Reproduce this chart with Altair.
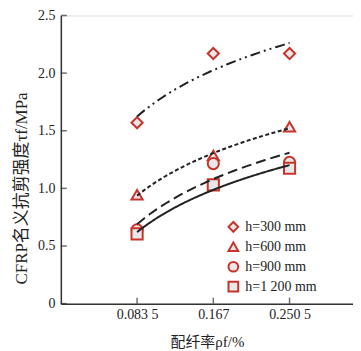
import altair as alt
import pandas as pd

# ---- data ----
ratio = [0.0835, 0.167, 0.2505]
ratio_labels = ["0.083 5", "0.167", "0.250 5"]
series = ["h=300 mm", "h=600 mm", "h=900 mm", "h=1 200 mm"]
h300 = [1.57, 2.17, 2.17]
h600 = [0.945, 1.285, 1.535]
h900 = [0.64, 1.215, 1.225]
h1200 = [0.605, 1.03, 1.175]
y_ticks = [0, 0.5, 1.0, 1.5, 2.0, 2.5]

shapes = ["diamond", "triangle-up", "circle", "square"]
dashes = [[10, 4, 2, 4, 2, 4], [4, 2.5], [10, 5], [1, 0]]

rows = []
for name, vals in zip(series, [h300, h600, h900, h1200]):
    for x, v in zip(ratio, vals):
        rows.append({"rho": x, "tau": v, "h": name})
df = pd.DataFrame(rows)

RED = "#c8342c"
FILL = "#e8e8e8"
SERIF = "Liberation Serif"
MIXED = "'Liberation Serif', 'Noto Sans CJK SC', serif"

W, H = 293, 289
xscale = alt.Scale(domain=[0, 0.32], nice=False, zero=False)
yscale = alt.Scale(domain=[0, 2.5], nice=False)

x_expr = " : ".join(
    f"datum.value == {v} ? '{l}'" for v, l in zip(ratio, ratio_labels)
) + " : ''"

x_axis = alt.Axis(
    values=ratio, labelExpr=x_expr, ticks=False, tickSize=0, grid=False,
    labelPadding=4, labelFont=SERIF, labelFontSize=14, labelColor="#222",
    title="配纤率ρf/%", titleFont=MIXED, titleFontSize=15, titleFontWeight="normal",
    titleColor="#222", titlePadding=13, domainColor="#333", domainWidth=1.5,
)
y_axis = alt.Axis(
    values=y_ticks,
    labelExpr="datum.value == 0 ? '0' : format(datum.value, '.1f')",
    ticks=False, tickSize=0, grid=False, labelPadding=6,
    labelFont=SERIF, labelFontSize=14, labelColor="#222",
    title="CFRP名义抗剪强度τf/MPa", titleFont=MIXED, titleFontSize=17,
    titleFontWeight="normal", titleColor="#222", titleAngle=-90,
    titleX=-39, titleY=173, titleAlign="center", titleBaseline="middle",
    domainColor="#333", domainWidth=1.5,
)

legend = alt.Legend(
    title=None, orient="none", legendX=166, legendY=205,
    labelFont=SERIF, labelFontSize=14, labelColor="#222",
    symbolSize=95, symbolStrokeWidth=2, symbolOpacity=1,
    symbolFillColor="#f0f0f0", labelOffset=5, rowPadding=2, padding=0,
)

base = alt.Chart(df)

points = base.mark_point(
    filled=False, fill=FILL, fillOpacity=1, strokeWidth=2, opacity=1, size=125
).encode(
    x=alt.X("rho:Q", scale=xscale, axis=x_axis),
    y=alt.Y("tau:Q", scale=yscale, axis=y_axis),
    shape=alt.Shape("h:N", scale=alt.Scale(domain=series, range=shapes),
                    sort=series, legend=legend),
    color=alt.Color("h:N", scale=alt.Scale(domain=series, range=[RED] * 4),
                    sort=series, legend=legend),
)

curve_layers = []
for name, dash in zip(series, dashes):
    curve_layers.append(
        base.transform_filter(alt.datum.h == name)
        .transform_regression("rho", "tau", method="log", extent=[0.0835, 0.2505])
        .mark_line(stroke="#222", strokeWidth=2, strokeDash=dash)
        .encode(
            x=alt.X("rho:Q", scale=xscale),
            y=alt.Y("tau:Q", scale=yscale),
        )
    )

yt = alt.Chart(pd.DataFrame({"v": y_ticks})).mark_tick(
    orient="horizontal", size=6, thickness=1.5, color="#333", xOffset=3
).encode(y=alt.Y("v:Q", scale=yscale), x=alt.datum(0, scale=xscale))

xt = alt.Chart(pd.DataFrame({"v": ratio})).mark_tick(
    orient="vertical", size=6, thickness=1.5, color="#333", yOffset=-3
).encode(x=alt.X("v:Q", scale=xscale), y=alt.datum(0, scale=yscale))

chart = alt.layer(points, *curve_layers, yt, xt).properties(
    width=W, height=H,
    autosize=alt.AutoSizeParams(type="none"),
    padding={"left": 53, "top": 7, "right": 0, "bottom": 50},
).configure_view(stroke=None).configure(background="white")

chart.save("out.html", embed_options={"renderer": "svg", "actions": False})
